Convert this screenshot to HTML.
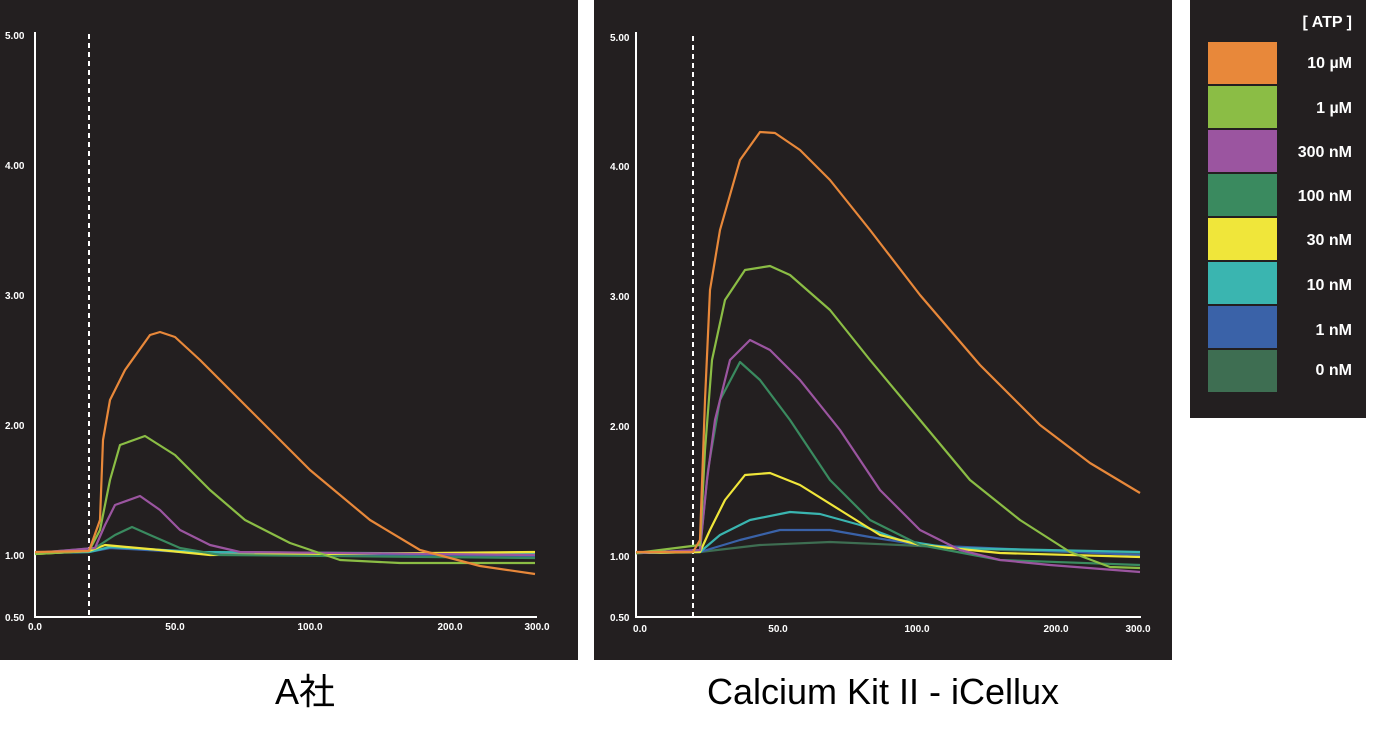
<!DOCTYPE html><html><head><meta charset="utf-8"><style>
body{margin:0;background:#fff;width:1382px;height:737px;overflow:hidden;font-family:"Liberation Sans","Noto Sans CJK JP",sans-serif}
</style></head><body>
<svg width="1382" height="737" xmlns="http://www.w3.org/2000/svg" style="position:absolute;left:0;top:0">
<rect x="0" y="0" width="578" height="660" fill="#231f20"/>
<rect x="594" y="0" width="578" height="660" fill="#231f20"/>
<rect x="1190" y="0" width="176" height="418" fill="#231f20"/>
<g font-family="Liberation Sans,sans-serif" font-size="10" fill="#fff" font-weight="bold">
<text x="5" y="39">5.00</text><text x="5" y="169">4.00</text><text x="5" y="299">3.00</text><text x="5" y="429">2.00</text><text x="5" y="559">1.00</text><text x="5" y="621">0.50</text>
<text x="35" y="630" text-anchor="middle">0.0</text><text x="175" y="630" text-anchor="middle">50.0</text><text x="310" y="630" text-anchor="middle">100.0</text><text x="450" y="630" text-anchor="middle">200.0</text><text x="537" y="630" text-anchor="middle">300.0</text>
<text x="610" y="41">5.00</text><text x="610" y="170">4.00</text><text x="610" y="300">3.00</text><text x="610" y="430">2.00</text><text x="610" y="560">1.00</text><text x="610" y="621">0.50</text>
<text x="640" y="632" text-anchor="middle">0.0</text><text x="778" y="632" text-anchor="middle">50.0</text><text x="917" y="632" text-anchor="middle">100.0</text><text x="1056" y="632" text-anchor="middle">200.0</text><text x="1138" y="632" text-anchor="middle">300.0</text>
</g>
<g stroke="#fff" stroke-width="2" fill="none">
<polyline points="35,32 35,617 537,617"/>
<polyline points="636,32 636,617 1141,617"/>
<line x1="89" y1="34" x2="89" y2="617" stroke-dasharray="5,4"/>
<line x1="693" y1="36" x2="693" y2="617" stroke-dasharray="5,4"/>
</g>
<g fill="none" stroke-width="2.2" stroke-linejoin="round">
<polyline stroke="#3a62a8" points="35,553 89,552 110,548 200,553 535,556"/>
<polyline stroke="#3ab5b0" points="35,553 89,552 110,547 200,552 535,554"/>
<polyline stroke="#f0e63a" points="35,554 89,551 105,545 160,550 210,555 535,552"/>
<polyline stroke="#3a8a5f" points="35,553 95,548 115,535 132,527 150,535 180,548 220,555 535,558"/>
<polyline stroke="#9b55a0" points="35,553 95,548 105,525 115,505 140,496 160,510 180,530 210,545 240,552 535,555"/>
<polyline stroke="#8bbd45" points="35,554 89,551 100,530 110,480 120,445 145,436 175,455 210,490 245,520 290,543 340,560 400,563 535,563"/>
<polyline stroke="#e8883a" points="35,552 89,551 100,520 103,440 110,400 125,370 150,335 160,332 175,337 200,360 250,410 310,470 370,520 420,550 480,566 535,574"/>

<polyline stroke="#3e6e52" points="636,553 700,552 760,545 830,542 900,545 1000,550 1140,554"/>
<polyline stroke="#3a62a8" points="636,553 700,552 740,540 780,530 830,530 870,537 920,545 1140,555"/>
<polyline stroke="#3ab5b0" points="636,553 700,552 720,535 750,520 790,512 820,514 860,525 900,540 950,548 1140,552"/>
<polyline stroke="#f0e63a" points="636,553 700,552 710,530 725,500 745,475 770,473 800,485 840,510 880,535 920,545 1000,553 1140,557"/>
<polyline stroke="#3a8a5f" points="636,553 700,550 708,470 720,400 740,362 760,380 790,420 830,480 870,520 920,545 1000,560 1140,565"/>
<polyline stroke="#9b55a0" points="636,553 700,550 707,480 715,420 730,360 750,340 770,350 800,380 840,430 880,490 920,530 960,550 1000,560 1050,565 1140,572"/>
<polyline stroke="#8bbd45" points="636,553 700,545 705,450 712,360 725,300 745,270 770,266 790,275 830,310 870,360 920,420 970,480 1020,520 1070,552 1110,567 1140,568"/>
<polyline stroke="#e8883a" points="636,552 693,552 700,540 705,400 710,290 720,230 740,160 760,132 775,133 800,150 830,180 870,230 920,295 980,365 1040,425 1090,463 1140,493"/>
</g>
<g font-family="Liberation Sans,sans-serif" font-size="16" font-weight="bold" fill="#fff" text-anchor="end">
<text x="1352" y="27">[ ATP ]</text>
<rect x="1208" y="42" width="69" height="42" fill="#e8883a"/><text x="1352" y="68">10 µM</text>
<rect x="1208" y="86" width="69" height="42" fill="#8bbd45"/><text x="1352" y="113">1 µM</text>
<rect x="1208" y="130" width="69" height="42" fill="#9b55a0"/><text x="1352" y="157">300 nM</text>
<rect x="1208" y="174" width="69" height="42" fill="#3a8a5f"/><text x="1352" y="201">100 nM</text>
<rect x="1208" y="218" width="69" height="42" fill="#f0e63a"/><text x="1352" y="245">30 nM</text>
<rect x="1208" y="262" width="69" height="42" fill="#3ab5b0"/><text x="1352" y="290">10 nM</text>
<rect x="1208" y="306" width="69" height="42" fill="#3a62a8"/><text x="1352" y="335">1 nM</text>
<rect x="1208" y="350" width="69" height="42" fill="#3e6e52"/><text x="1352" y="375">0 nM</text>
</g>
<g font-family="Liberation Sans,Noto Sans CJK JP,sans-serif" font-size="36" fill="#000" text-anchor="middle">
<text x="305" y="704">A社</text>
<text x="883" y="704">Calcium Kit II - iCellux</text>
</g>
</svg>
</body></html>
